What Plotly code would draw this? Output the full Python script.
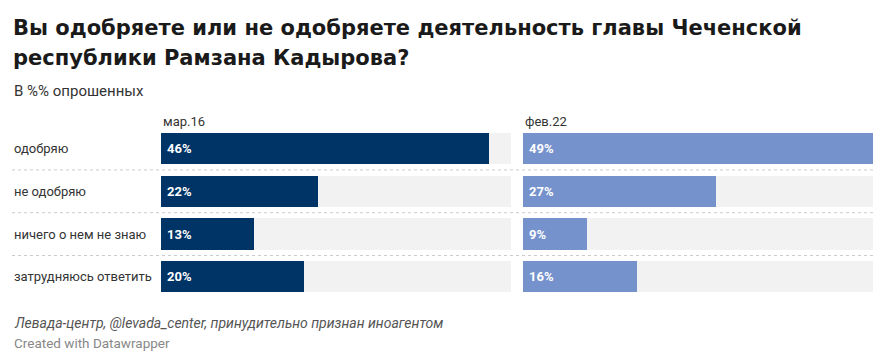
import plotly.graph_objects as go

categories = ["одобряю", "не одобряю", "ничего о нем не знаю", "затрудняюсь ответить"]
series_names = ["мар.16", "фев.22"]
values_2016 = [46, 22, 13, 20]
values_2022 = [49, 27, 9, 16]
value_labels_2016 = ["46%", "22%", "13%", "20%"]
value_labels_2022 = ["49%", "27%", "9%", "16%"]

title_lines = ["Вы одобряете или не одобряете деятельность главы Чеченской",
               "республики Рамзана Кадырова?"]
subtitle = "В %% опрошенных"
source = "Левада-центр, @levada_center, принудительно признан иноагентом"
credit = "Created with Datawrapper"

# page has an 8px body margin; figure is sized so it fits the window
OFF = 8
W, H = 876, 351
FONT = "Roboto, 'Noto Sans', sans-serif"
TITLE_FONT = "'DejaVu Sans', 'Liberation Sans', sans-serif"
colors = ["#003366", "#7692cd"]
bg_color = "#f2f2f2"


def px(x):
    return (x - OFF) / W


def py(y):
    return (H - (y - OFF)) / H


vmax = max(values_2016 + values_2022)
ypos = list(range(len(categories)))

fig = go.Figure()
series = [values_2016, values_2022]
labels = [value_labels_2016, value_labels_2022]
for k, vals in enumerate(series):
    xa = "x" if k == 0 else "x2"
    ya = "y" if k == 0 else "y2"
    fig.add_trace(go.Bar(x=[vmax] * len(categories), y=ypos, orientation="h",
                         marker=dict(color=bg_color, line=dict(width=0)), width=0.725,
                         xaxis=xa, yaxis=ya, hoverinfo="skip", showlegend=False))
    fig.add_trace(go.Bar(x=vals, y=ypos, orientation="h",
                         marker=dict(color=colors[k], line=dict(width=0)), width=0.725,
                         xaxis=xa, yaxis=ya, name=series_names[k], showlegend=False))
    for i, lab in enumerate(labels[k]):
        fig.add_annotation(x=0, y=i, xref=xa, yref=ya, text="<b>" + lab + "</b>", showarrow=False,
                           xanchor="left", xshift=4, font=dict(family=FONT, size=13, color="white"))

# domains
y_top_px, y_bot_px = 127.1, 298.3
ydom = [py(y_bot_px), py(y_top_px)]
x1 = [px(161), px(512)]
x2 = [px(523), px(874)]

ax_common = dict(range=[0, vmax * 1.004], showgrid=False, zeroline=False, showticklabels=False, fixedrange=True)
ay_common = dict(range=[len(categories) - 0.5, -0.5], showgrid=False, zeroline=False,
                 showticklabels=False, domain=ydom)
fig.update_layout(
    xaxis=dict(domain=x1, anchor="y", **ax_common),
    xaxis2=dict(domain=x2, anchor="y2", **ax_common),
    yaxis=dict(anchor="x", **ay_common),
    yaxis2=dict(anchor="x2", **ay_common),
)

# row labels
for i, c in enumerate(categories):
    fig.add_annotation(x=px(12), y=i, xref="paper", yref="y", text=c, showarrow=False,
                       xanchor="left", font=dict(family=FONT, size=13, color="#333333"))
# separators
for i in range(len(categories) - 1):
    fig.add_shape(type="line", xref="paper", yref="y", x0=px(12), x1=px(879), y0=i + 0.5, y1=i + 0.5,
                  line=dict(color="#cccccc", width=1, dash="dot"))

# column headers
for k, name in enumerate(series_names):
    xd = x1 if k == 0 else x2
    fig.add_annotation(x=xd[0], y=py(121), xref="paper", yref="paper", text=name, showarrow=False,
                       xanchor="left", yanchor="middle", font=dict(family=FONT, size=13, color="#333333"))

# title (two lines placed individually), subtitle, notes
for j, line in enumerate(title_lines):
    fig.add_annotation(x=px(11), y=py(28 + 30 * j), xref="paper", yref="paper", text="<b>" + line + "</b>",
                       showarrow=False, xanchor="left", yanchor="middle",
                       font=dict(family=TITLE_FONT, size=21, color="#1a1a1a"))
fig.add_annotation(x=px(12), y=py(91), xref="paper", yref="paper", text=subtitle, showarrow=False,
                   xanchor="left", yanchor="middle", font=dict(family=FONT, size=15, color="#333333"))
fig.add_annotation(x=px(12), y=py(323), xref="paper", yref="paper", text="<i>" + source + "</i>",
                   showarrow=False, xanchor="left", yanchor="middle",
                   font=dict(family=FONT, size=14, color="#555555"))
fig.add_annotation(x=px(12), y=py(343), xref="paper", yref="paper", text=credit,
                   showarrow=False, xanchor="left", yanchor="middle",
                   font=dict(family=FONT, size=13.5, color="#888888"))

fig.update_layout(width=W, height=H, margin=dict(l=0, r=0, t=0, b=0),
                  paper_bgcolor="white", plot_bgcolor="white", barmode="overlay", bargap=0)
fig.write_html("out.html")
